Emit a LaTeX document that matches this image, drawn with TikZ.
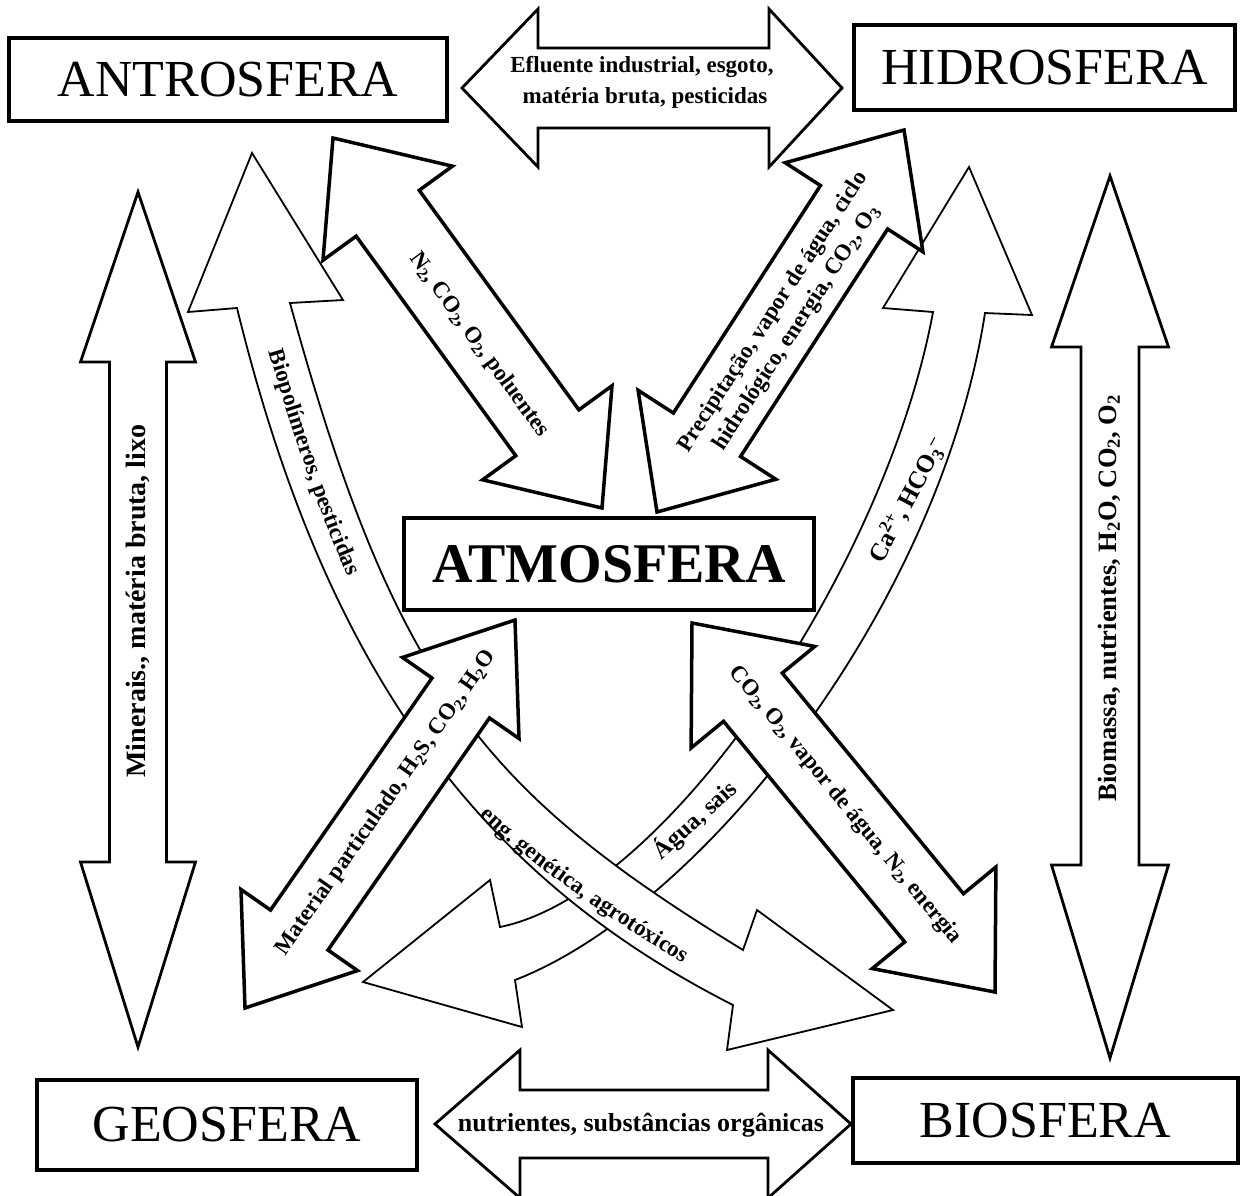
\documentclass[tikz,border=0pt]{standalone}
\usepackage{fontspec}
\setmainfont{Liberation Serif}
\usetikzlibrary{calc,decorations.text}
\newcommand\lblfont{\bfseries\fontsize{23}{28}\selectfont}
% double block arrow: [style]{A}{B}{half shaft}{half head}{head length at A}{head length at B}
\newcommand\dblarrow[7][]{%
  \draw[#1] (#2)
    -- ($(#2)!#6pt!(#3)!#5pt!90:(#3)$)
    -- ($(#2)!#6pt!(#3)!#4pt!90:(#3)$)
    -- ($(#3)!#7pt!(#2)!#4pt!-90:(#2)$)
    -- ($(#3)!#7pt!(#2)!#5pt!-90:(#2)$)
    -- (#3)
    -- ($(#3)!#7pt!(#2)!#5pt!90:(#2)$)
    -- ($(#3)!#7pt!(#2)!#4pt!90:(#2)$)
    -- ($(#2)!#6pt!(#3)!#4pt!-90:(#3)$)
    -- ($(#2)!#6pt!(#3)!#5pt!-90:(#3)$)
    -- cycle;}
\begin{document}
\begin{tikzpicture}[x=1pt,y=-1pt,
  spherebox/.style={draw, line width=4.5pt, fill=white, inner sep=0pt,
                    font=\fontsize{52}{52}\selectfont},
  outerarrow/.style={draw, line width=2.8pt, fill=white, line join=miter},
  diagarrow/.style={draw, line width=3.5pt, fill=white, line join=miter},
  bandarrow/.style={draw, line width=1.8pt, fill=white, line join=miter},
  arrowlabel/.style={font=\lblfont, inner sep=0pt, align=center}]
\useasboundingbox (0,0) rectangle (1244,1195);

% ---- curved band: Hidrosfera <-> Geosfera
\coordinate (hgTop) at (969,167);
\coordinate (hgBot) at (363,982);
\draw[bandarrow] (hgTop) -- (1032,315) -- (985,313)
   .. controls (939,609) and (701,908) .. (515,980) -- (522,1027) -- (hgBot)
   -- (490,880) -- (500,927)
   .. controls (667,893) and (886,567) .. (933,312) -- (883,308) -- cycle;
\node[arrowlabel, font=\bfseries\fontsize{25}{28}\selectfont, rotate=62] (ca) at (907,500)
   {Ca\textsuperscript{2+}, HCO\textsubscript{3}\textsuperscript{--}};
\node[arrowlabel, font=\bfseries\fontsize{24}{28}\selectfont, rotate=42] (agua) at (695,820) {Água, sais};

% ---- curved band: Antrosfera <-> Biosfera
\coordinate (abTop) at (252,153);
\coordinate (abBot) at (893,1010);
\draw[bandarrow] (abTop) -- (343,300) -- (290,303)
   .. controls (396,689) and (487,793) .. (743,950) -- (757,910) -- (abBot)
   -- (727,1050) -- (733,1005)
   .. controls (473,873) and (324,663) .. (237,308) -- (188,312) -- cycle;
\path[decorate, decoration={text along path, text align=center, raise=-7pt,
   text={|\lblfont|Biopolímeros, pesticidas}}]
   (272,337) .. controls (294,414) and (326,513) .. (360,586);
\path[decorate, decoration={text along path, text align=center, raise=-7pt,
   text={|\lblfont|eng. genética, agrotóxicos}}]
   (470,795) .. controls (523,855) and (636,927) .. (705,968);

% ---- straight diagonal arrows
\coordinate (eA) at (333,138); \coordinate (eB) at (602,508);
\dblarrow[diagarrow]{eA}{eB}{39}{80}{93}{93}
\node[arrowlabel, rotate=-54] (eL) at (479,345)
   {N\textsubscript{2}, CO\textsubscript{2}, O\textsubscript{2}, poluentes};

\coordinate (fA) at (904,130); \coordinate (fB) at (657,512);
\dblarrow[diagarrow]{fA}{fB}{40}{82}{92}{92}
\node[arrowlabel, rotate=57] (fL) at (785,320)
   {Precipitação, vapor de água, ciclo\\hidrológico, energia, CO\textsubscript{2}, O\textsubscript{3}};

\coordinate (gA) at (515,620); \coordinate (gB) at (245,1008);
\dblarrow[diagarrow]{gA}{gB}{35}{71}{95}{95}
\node[arrowlabel, rotate=55] (gL) at (386,803)
   {Material particulado, H\textsubscript{2}S, CO\textsubscript{2}, H\textsubscript{2}O};

\coordinate (hA) at (692,623); \coordinate (hB) at (995,992);
\dblarrow[diagarrow]{hA}{hB}{38}{80}{96}{96}
\node[arrowlabel, rotate=-50.6] (hL) at (845,805)
   {CO\textsubscript{2}, O\textsubscript{2}, vapor de água, N\textsubscript{2}, energia};

% ---- outer arrows
\coordinate (aL) at (462,88); \coordinate (aR) at (842,88);
\dblarrow[outerarrow]{aL}{aR}{40}{79}{76}{73}
\node[arrowlabel, anchor=base] (aT1) at (642,72) {Efluente industrial, esgoto,};
\node[arrowlabel, anchor=base] (aT2) at (645,103) {matéria bruta, pesticidas};

\coordinate (bL) at (435,1124); \coordinate (bR) at (851,1124);
\dblarrow[outerarrow]{bL}{bR}{34}{74}{85}{83}
\node[arrowlabel, font=\bfseries\fontsize{26}{28}\selectfont] (bT) at (641,1125)
   {nutrientes, substâncias orgânicas};

\coordinate (cT) at (138,192); \coordinate (cB) at (138,1047);
\dblarrow[outerarrow]{cT}{cB}{28.5}{57.5}{170}{185}
\node[arrowlabel, font=\bfseries\fontsize{28}{30}\selectfont, rotate=90] (cL) at (138,601)
   {Minerais., matéria bruta, lixo};

\coordinate (dT) at (1110,176); \coordinate (dB) at (1110,1058);
\dblarrow[outerarrow]{dT}{dB}{29}{58.5}{171}{193}
\node[arrowlabel, font=\bfseries\fontsize{26.5}{30}\selectfont, rotate=90] (dL) at (1109,598)
   {Biomassa, nutrientes, H\textsubscript{2}O, CO\textsubscript{2}, O\textsubscript{2}};

% ---- spheres
\node[spherebox, minimum width=438pt, minimum height=83pt] (antro) at (228,79.5) {ANTROSFERA};
\node[spherebox, minimum width=381pt, minimum height=85pt] (hidro) at (1044.5,67.5) {HIDROSFERA};
\node[spherebox, minimum width=410pt, minimum height=92pt,
      font=\bfseries\fontsize{56}{56}\selectfont] (atmo) at (609,564) {ATMOSFERA};
\node[spherebox, minimum width=380pt, minimum height=90pt] (geo) at (227,1125) {GEOSFERA};
\node[spherebox, minimum width=385pt, minimum height=85pt] (bio) at (1045.5,1120.5) {BIOSFERA};
\end{tikzpicture}
\end{document}
